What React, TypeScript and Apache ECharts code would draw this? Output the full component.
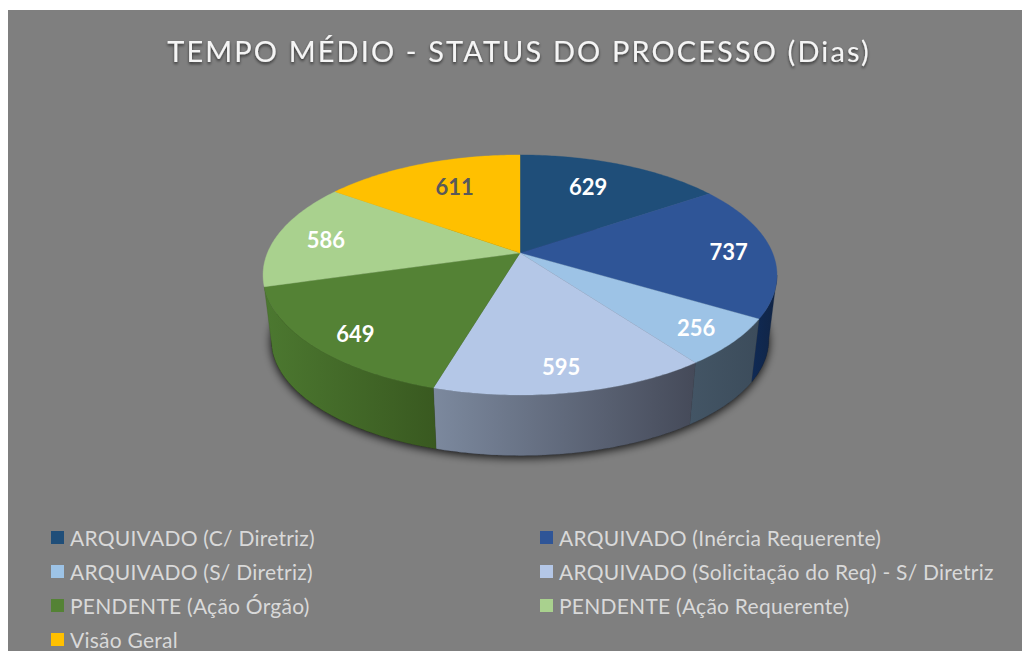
import React, { useEffect, useRef } from "react";
import * as echarts from "echarts";

const titleText = "TEMPO MÉDIO - STATUS DO PROCESSO (Dias)";
const categories = [
  "ARQUIVADO (C/ Diretriz)",
  "ARQUIVADO (Inércia Requerente)",
  "ARQUIVADO (S/ Diretriz)",
  "ARQUIVADO (Solicitação do Req) - S/ Diretriz",
  "PENDENTE (Ação Órgão)",
  "PENDENTE (Ação Requerente)",
  "Visão Geral",
];
const values = [629, 737, 256, 595, 649, 586, 611];

const topColors = ["#1F4E79", "#2F5597", "#9DC3E6", "#B4C7E7", "#548235", "#A9D18E", "#FFC000"];
const wallFrom = ["#1F4E79", "#0F2A55", "#435565", "#7C899E", "#4C7830", "#A9D18E", "#FFC000"];
const wallTo = ["#1F4E79", "#112444", "#3C4C5B", "#454A59", "#395920", "#A9D18E", "#FFC000"];
const labelColors = ["#FFFFFF", "#FFFFFF", "#FFFFFF", "#FFFFFF", "#FFFFFF", "#FFFFFF", "#595959"];
const labelRadii = [0.7, 0.83, 0.85, 0.84, 0.83, 0.8, 0.69];
const labelDx = [-6, 0, -1, -2, 2, 0, 6];
const labelDy = [-2, 1, 0, 0, 4, 2, -2];

const FONT = "Lato, Carlito, sans-serif";
const OX = 8;
const OY = 10;
const PERSPECTIVE = 0.1833;
const TOP_RING = { cx: 520, cy: 253, a: 252.6, b: 116 };
const BOTTOM_RING = { cx: 520, cy: 318.5, a: 244.5, b: 112 };
const WALL_START = (100.6 * Math.PI) / 180;
const total = values.reduce((s, v) => s + v, 0);

type Ring = typeof TOP_RING;

function project(ring: Ring, theta: number, r = 1): number[] {
  const X = Math.sin(theta) * r;
  const Y = Math.cos(theta) * r;
  const w = 1 + PERSPECTIVE * Y;
  return [ring.cx + (ring.a * X) / w - OX, ring.cy - (ring.b * Y) / w - OY];
}

function arc(ring: Ring, from: number, to: number): number[][] {
  const n = Math.max(2, Math.ceil(Math.abs(to - from) / 0.015));
  const pts: number[][] = [];
  for (let i = 0; i <= n; i++) pts.push(project(ring, from + ((to - from) * i) / n));
  return pts;
}

function sliceAngles(index: number): number[] {
  let before = 0;
  for (let i = 0; i < index; i++) before += values[i];
  return [(before / total) * 2 * Math.PI, ((before + values[index]) / total) * 2 * Math.PI];
}

// The wall ends where the last front slice (PENDENTE, Ação Órgão) ends.
const WALL_END = sliceAngles(4)[1];

function renderSlice(params: any, api: any) {
  const i = params.seriesIndex - 1;
  const value = api.value(0);
  const [start, end] = sliceAngles(i);
  const children: any[] = [];

  const wa = Math.max(start, WALL_START);
  const wb = Math.min(end, WALL_END);
  if (wb > wa) {
    const pts = [...arc(TOP_RING, wa, wb), ...arc(BOTTOM_RING, wb, wa)];
    children.push({
      type: "polygon",
      shape: { points: pts },
      style: {
        fill: {
          type: "linear",
          x: 0,
          y: 0,
          x2: 1,
          y2: 0,
          colorStops: [
            { offset: 0, color: wallFrom[i] },
            { offset: 1, color: wallTo[i] },
          ],
        },
        stroke: wallTo[i],
        lineWidth: 0.3,
      },
    });
  }

  children.push({
    type: "polygon",
    shape: { points: [project(TOP_RING, 0, 0), ...arc(TOP_RING, start, end)] },
    style: { fill: topColors[i], stroke: topColors[i], lineWidth: 0.4 },
  });

  const mid = (start + end) / 2;
  const [lx, ly] = project(TOP_RING, mid, labelRadii[i]);
  children.push({
    type: "text",
    z2: 10,
    style: {
      text: String(value),
      x: lx + labelDx[i],
      y: ly + labelDy[i],
      align: "center",
      verticalAlign: "middle",
      fill: labelColors[i],
      font: `bold 22px ${FONT}`,
    },
  });
  return { type: "group", children };
}

function renderShadow() {
  return {
    type: "polygon",
    shape: { points: arc(BOTTOM_RING, 0, 2 * Math.PI) },
    style: {
      fill: "#222222",
      shadowBlur: 10,
      shadowColor: "rgba(0,0,0,0.9)",
      shadowOffsetX: 0,
      shadowOffsetY: 2,
    },
  };
}

const spacingCss = `
  #pie-chart text[style*="29px"] { letter-spacing: 2.1px; -webkit-text-stroke: 0.5px #F5F5F5; }
  #pie-chart text[style*="21px"] { letter-spacing: 0.25px; }
`;

export default function App() {
  const ref = useRef<HTMLDivElement>(null);
  useEffect(() => {
    const chart = echarts.init(ref.current!, null, { renderer: "svg" });
    const legendBase = {
      orient: "vertical" as const,
      top: 517,
      padding: 0,
      itemWidth: 13,
      itemHeight: 13,
      itemGap: 13,
      selectedMode: false,
      textStyle: { color: "#D9D9D9", fontSize: 21, fontFamily: FONT, padding: [0, 0, 0, 1] },
      icon: "rect",
    };
    chart.setOption({
      animation: false,
      backgroundColor: "#7F7F7F",
      title: {
        text: titleText,
        left: 506,
        textAlign: "center",
        top: 21,
        textStyle: {
          color: "#F5F5F5",
          fontSize: 29,
          fontWeight: "normal",
          fontFamily: FONT,
          textShadowColor: "rgba(0,0,0,0.6)",
          textShadowBlur: 3,
          textShadowOffsetY: 2,
        },
      },
      legend: [
        { ...legendBase, left: 43, data: [categories[0], categories[2], categories[4], categories[6]] },
        { ...legendBase, left: 532, data: [categories[1], categories[3], categories[5]] },
      ],
      series: [
        {
          type: "custom",
          name: "sombra",
          coordinateSystem: "none",
          silent: true,
          z: 1,
          renderItem: renderShadow,
          data: [[total]],
        },
        ...categories.map((name, i) => ({
          type: "custom",
          name,
          coordinateSystem: "none",
          silent: true,
          z: 2,
          itemStyle: { color: topColors[i] },
          renderItem: renderSlice,
          data: [[values[i]]],
        })),
      ],
    });
    return () => chart.dispose();
  }, []);
  return (
    <>
      <style>{spacingCss}</style>
      <div
        id="pie-chart"
        ref={ref}
        style={{ position: "fixed", left: OX, top: OY, width: 1022 - OX, height: 651 - OY }}
      />
    </>
  );
}
